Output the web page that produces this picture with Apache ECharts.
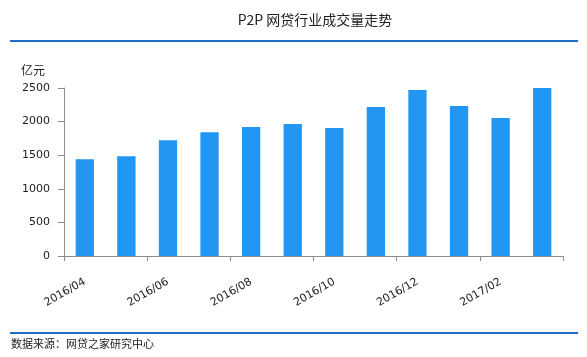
<!DOCTYPE html>
<html>
<head>
<meta charset="utf-8">
<script src="https://cdn.jsdelivr.net/npm/echarts@6/dist/echarts.min.js"></script>
<style>
html,body{margin:0;padding:0;background:#fff;}
#main{width:587px;height:357px;}
</style>
</head>
<body>
<div id="main"></div>
<script>
const categories = ['2016/04','2016/05','2016/06','2016/07','2016/08','2016/09','2016/10','2016/11','2016/12','2017/01','2017/02','2017/03'];
const volumes = [1440, 1485, 1724, 1843, 1918, 1963, 1903, 2216, 2470, 2231, 2052, 2515];
const yTicks = { min: 0, max: 2500, interval: 500 };
const titleText = 'P2P 网贷行业成交量走势';
const unitText = '亿元';
const sourceText = '数据来源：网贷之家研究中心';

const chart = echarts.init(document.getElementById('main'), null, {renderer: 'canvas'});
const font = '"Noto Sans CJK SC", "DejaVu Sans", sans-serif';
const numFont = '"DejaVu Sans", "Noto Sans CJK SC", sans-serif';
chart.setOption({
  animation: false,
  textStyle: { fontFamily: font },
  title: {
    text: titleText,
    left: 310, top: 8, textAlign: 'center',
    textStyle: { fontSize: 14, fontWeight: 'normal', color: '#222', fontFamily: font }
  },
  grid: { left: 64, right: 24, top: 88, bottom: 101 },
  xAxis: {
    type: 'category',
    data: categories,
    boundaryGap: true,
    axisLine: { lineStyle: { color: '#8c8c8c', width: 1 } },
    axisTick: { show: true, interval: 1, length: 5, lineStyle: { color: '#8c8c8c' } },
    axisLabel: { interval: 1, rotate: 30, margin: 25, fontSize: 11, color: '#222', fontFamily: numFont }
  },
  yAxis: {
    type: 'value',
    min: yTicks.min, max: yTicks.max, interval: yTicks.interval,
    name: unitText,
    nameLocation: 'end',
    nameGap: 12,
    nameTextStyle: { align: 'right', padding: [0, 19, 0, 0], fontSize: 12, color: '#222', fontFamily: font },
    axisLine: { show: true, lineStyle: { color: '#8c8c8c', width: 1 } },
    axisTick: { show: true, inside: false, length: 6, lineStyle: { color: '#8c8c8c' } },
    axisLabel: { margin: 14, fontSize: 11, color: '#222', fontFamily: numFont, formatter: v => String(v) },
    splitLine: { show: false }
  },
  series: [{
    type: 'bar',
    data: volumes,
    barWidth: '44%',
    itemStyle: { color: '#2196F3' }
  }],
  graphic: [
    { type: 'line', shape: { x1: 10, y1: 41, x2: 578, y2: 41 }, style: { stroke: '#1f6cc4', lineWidth: 2 } },
    { type: 'line', shape: { x1: 10, y1: 333, x2: 578, y2: 333 }, style: { stroke: '#1f6cc4', lineWidth: 2 } },
    { type: 'text', left: 11, top: 338, style: { text: sourceText, fontSize: 11, fill: '#222', fontFamily: font } }
  ]
});
</script>
</body>
</html>
